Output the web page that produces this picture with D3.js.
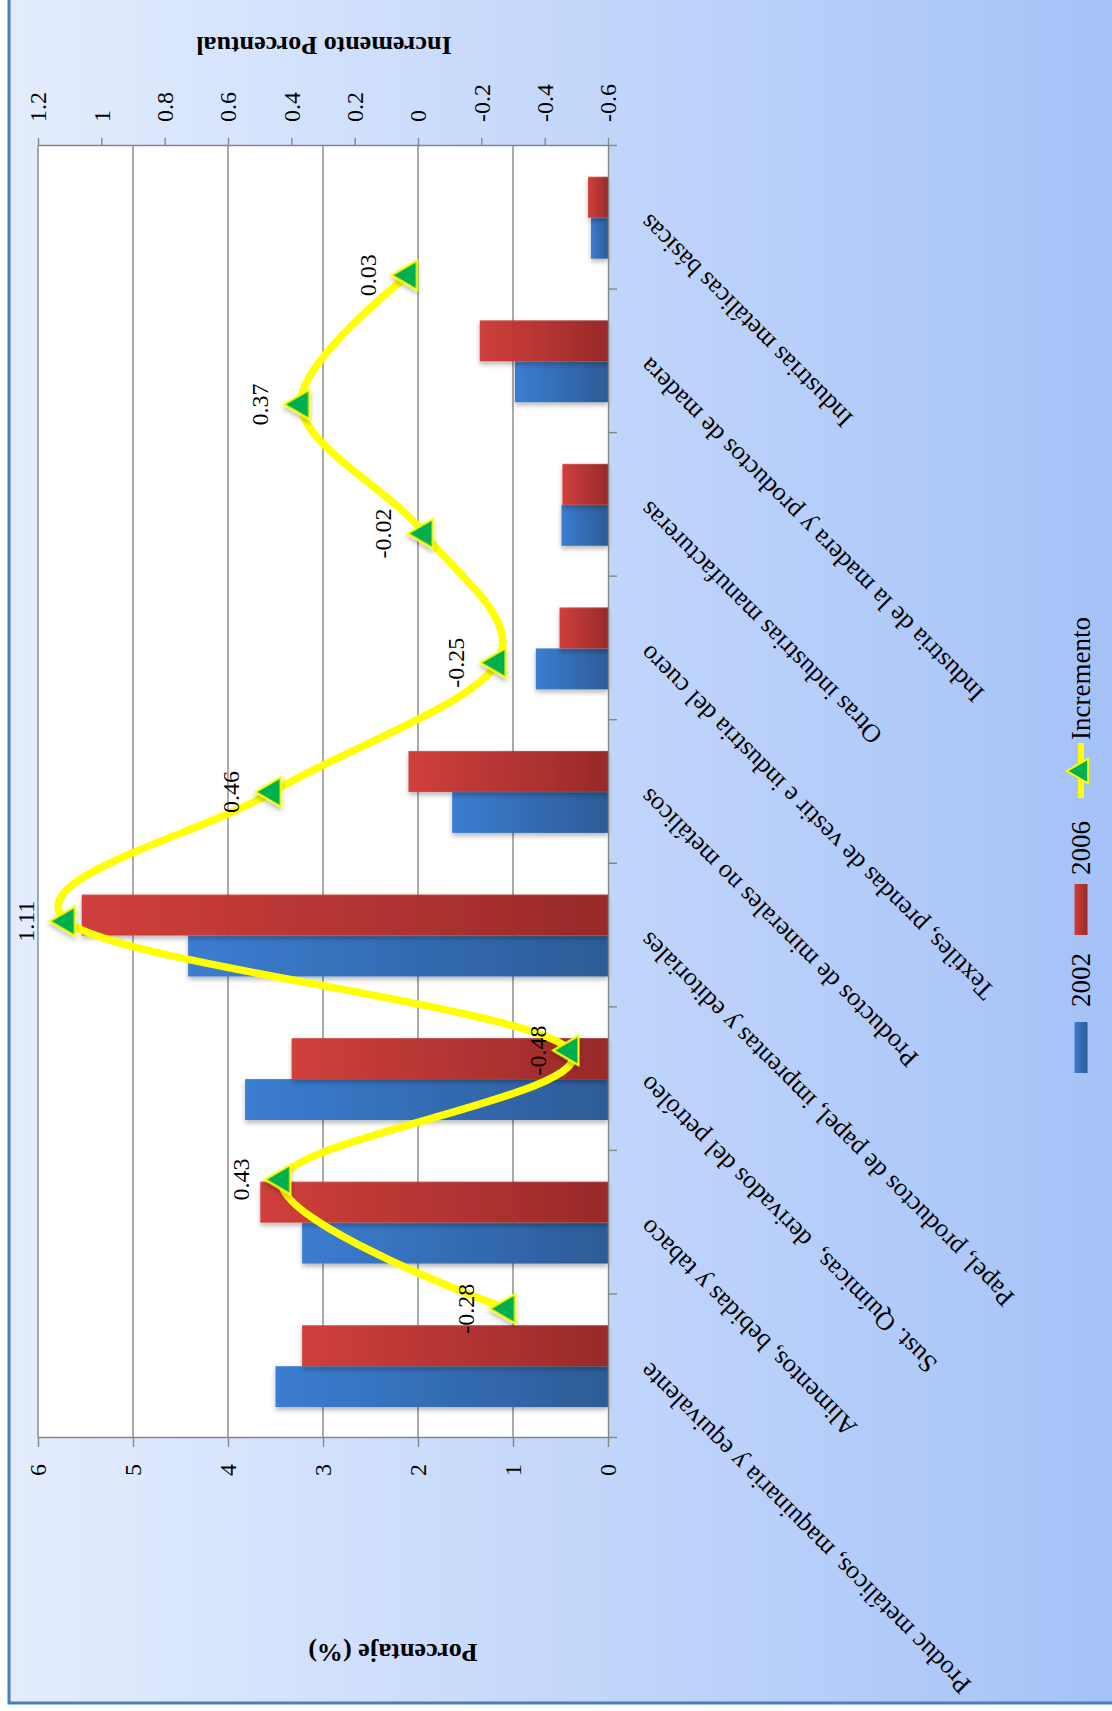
<!DOCTYPE html>
<html>
<head>
<meta charset="utf-8">
<script src="https://cdnjs.cloudflare.com/ajax/libs/d3/7.8.5/d3.min.js"></script>
<style>
  body { margin: 0; background: #fff; }
  svg { display: block; }
  text { font-family: "Liberation Serif", "Times New Roman", serif; fill: #000; }
</style>
</head>
<body>
<div id="chart"></div>
<script>
const categories = [
    "Produc metálicos, maquinaria y equivalente",
    "Alimentos, bebidas y tabaco",
    "Sust. Químicas,  derivados del petróleo",
    "Papel, productos de papel, imprentas y editoriales",
    "Productos de minerales no metálicos",
    "Textiles, prendas de vestir e industria del cuero",
    "Otras industrias manufactureras",
    "Industria de la madera y productos de madera",
    "Industrias metálicas básicas"
];
const values2002 = [3.50, 3.22, 3.82, 4.42, 1.64, 0.76, 0.49, 0.98, 0.18];
const values2006 = [3.22, 3.66, 3.33, 5.54, 2.10, 0.51, 0.48, 1.35, 0.21];
const incremento = [-0.28, 0.43, -0.48, 1.11, 0.46, -0.25, -0.02, 0.37, 0.03];
const leftTicks = [0, 1, 2, 3, 4, 5, 6];
const rightTicks = [-0.6, -0.4, -0.2, 0, 0.2, 0.4, 0.6, 0.8, 1, 1.2];
const seriesNames = ["2002", "2006"];

// the chart is drawn landscape, then turned a quarter turn to fit the page
const pageW = 1112, pageH = 1711;
const plot = { left: 273, right: 1565, top: 38, bottom: 608 };

const svg = d3.select("#chart").append("svg")
    .attr("width", pageW)
    .attr("height", pageH);

const defs = svg.append("defs");

const bg = defs.append("linearGradient").attr("id", "bg")
    .attr("x1", 0).attr("y1", 0).attr("x2", 1).attr("y2", 0);
bg.append("stop").attr("offset", 0).attr("stop-color", "#e4edfd");
bg.append("stop").attr("offset", 1).attr("stop-color", "#a3c1f8");

function barGradient(id, light, dark) {
    const g = defs.append("linearGradient").attr("id", id)
        .attr("x1", 0).attr("y1", 0).attr("x2", 0).attr("y2", 1);
    g.append("stop").attr("offset", 0).attr("stop-color", light);
    g.append("stop").attr("offset", 1).attr("stop-color", dark);
}
barGradient("g2002", "#3b7dd1", "#2c5c97");
barGradient("g2006", "#d03f3c", "#982a28");

defs.append("filter").attr("id", "shadow")
    .attr("x", "-20%").attr("y", "-20%").attr("width", "140%").attr("height", "140%")
    .append("feDropShadow")
    .attr("dx", -3).attr("dy", 0).attr("stdDeviation", 2.5)
    .attr("flood-color", "#000").attr("flood-opacity", 0.28);

// background and frame (page coordinates)
svg.append("rect")
    .attr("x", 9).attr("y", -10)
    .attr("width", pageW + 20).attr("height", 1713)
    .attr("fill", "url(#bg)")
    .attr("stroke", "#4a7ebb").attr("stroke-width", 3);

const g = svg.append("g")
    .attr("transform", `translate(0,${pageH}) rotate(-90)`);

// scales
const x = d3.scaleBand()
    .domain(categories)
    .range([plot.left, plot.right])
    .paddingInner(0.43)
    .paddingOuter(0.215);

const xSub = d3.scaleBand()
    .domain(seriesNames)
    .range([0, x.bandwidth()]);

const xIdx = d3.scaleLinear()
    .domain([0, categories.length])
    .range([plot.left, plot.right]);

// the line sits on its own category axis with one extra slot each side
const xLine = d3.scaleLinear()
    .domain([-1, categories.length])
    .range([plot.left, plot.right]);

const yLeft = d3.scaleLinear().domain([0, 6]).range([plot.bottom, plot.top]);
const yRight = d3.scaleLinear().domain([-0.6, 1.2]).range([plot.bottom, plot.top]);

// plot area
g.append("rect")
    .attr("x", plot.left).attr("y", plot.top)
    .attr("width", plot.right - plot.left)
    .attr("height", plot.bottom - plot.top)
    .attr("fill", "#fff");

g.append("g")
    .selectAll("line")
    .data(leftTicks.filter(d => d > 0))
    .join("line")
      .attr("x1", plot.left).attr("x2", plot.right)
      .attr("y1", d => yLeft(d)).attr("y2", d => yLeft(d))
      .attr("stroke", "#868686").attr("stroke-width", 1.4);

// bars
const rows = categories.map((c, i) => ({ cat: c, vals: [values2002[i], values2006[i]] }));

g.append("g")
    .selectAll("g")
    .data(rows)
    .join("g")
      .attr("transform", d => `translate(${x(d.cat)},0)`)
    .selectAll("rect")
    .data(d => d.vals.map((v, j) => ({ key: seriesNames[j], v })))
    .join("rect")
      .attr("x", d => xSub(d.key))
      .attr("y", d => yLeft(d.v))
      .attr("width", xSub.bandwidth())
      .attr("height", d => yLeft(0) - yLeft(d.v))
      .attr("fill", d => `url(#g${d.key})`)
      .attr("filter", "url(#shadow)");

// axes
function styleAxis(sel) {
    sel.selectAll(".domain").attr("stroke", "#868686").attr("stroke-width", 1.4);
    sel.selectAll(".tick line").attr("stroke", "#868686").attr("stroke-width", 1.4);
    sel.selectAll("text")
        .attr("font-family", "Liberation Serif")
        .attr("font-size", 24)
        .attr("fill", "#000");
}

g.append("g")
    .attr("transform", `translate(${plot.left},0)`)
    .call(d3.axisLeft(yLeft).tickValues(leftTicks).tickSize(9).tickPadding(17).tickSizeOuter(0)
        .tickFormat(d => d))
    .call(styleAxis);

g.append("g")
    .attr("transform", `translate(${plot.right},0)`)
    .call(d3.axisRight(yRight).tickValues(rightTicks).tickSize(8).tickPadding(16).tickSizeOuter(0)
        .tickFormat(d => String(+d.toFixed(1))))
    .call(styleAxis);

g.append("g")
    .attr("transform", `translate(0,${plot.bottom})`)
    .call(d3.axisBottom(xIdx).tickValues(d3.range(categories.length + 1)).tickSize(9).tickSizeOuter(0)
        .tickFormat(""))
    .call(styleAxis);

// category labels, slanted
g.append("g")
    .selectAll("text")
    .data(categories)
    .join("text")
      .attr("transform", d => `translate(${x(d) + x.bandwidth() / 2 + 5},${plot.bottom + 42}) rotate(-45)`)
      .attr("text-anchor", "end")
      .attr("font-size", 26)
      .style("white-space", "pre")
      .text(d => d);

// axis titles
g.append("text")
    .attr("transform", `translate(67,393) rotate(-90)`)
    .attr("text-anchor", "middle")
    .attr("font-size", 26).attr("font-weight", "bold")
    .text("Porcentaje (%)");

g.append("text")
    .attr("transform", `translate(1674,324) rotate(-90)`)
    .attr("text-anchor", "middle")
    .attr("font-size", 26).attr("font-weight", "bold")
    .text("Incremento Porcentual");

// incremento line
const line = d3.line()
    .x((d, i) => xLine(i))
    .y(d => yRight(d))
    .curve(d3.curveCardinal.tension(0));

g.append("path")
    .datum(incremento)
    .attr("d", line)
    .attr("fill", "none")
    .attr("stroke", "#ffff00")
    .attr("stroke-width", 7.5)
    .attr("stroke-linejoin", "round");

const tri = d3.symbol(d3.symbolTriangle, 380);

g.append("g")
    .selectAll("path")
    .data(incremento)
    .join("path")
      .attr("transform", (d, i) => `translate(${xLine(i)},${yRight(d)})`)
      .attr("d", tri)
      .attr("fill", "#00b050")
      .attr("stroke", "#ffff00")
      .attr("stroke-width", 2)
      .attr("filter", "url(#shadow)");

// the -0.48 label was dragged closer to its marker in the original
g.append("g")
    .selectAll("text")
    .data(incremento)
    .join("text")
      .attr("x", (d, i) => xLine(i))
      .attr("y", (d, i) => yRight(d) - (i === 2 ? 24 : 33))
      .attr("text-anchor", "middle")
      .attr("font-size", 24)
      .text(d => d.toFixed(2));

// legend
const legend = g.append("g").attr("transform", "translate(0,1081)");

legend.append("rect").attr("x", 638).attr("y", -6.5).attr("width", 51).attr("height", 13)
    .attr("fill", "url(#g2002)");
legend.append("text").attr("x", 704).attr("y", 9).attr("font-size", 27).text("2002");

legend.append("rect").attr("x", 776).attr("y", -6.5).attr("width", 51).attr("height", 13)
    .attr("fill", "url(#g2006)");
legend.append("text").attr("x", 836).attr("y", 9).attr("font-size", 27).text("2006");

legend.append("line").attr("x1", 913).attr("x2", 968).attr("y1", 0).attr("y2", 0)
    .attr("stroke", "#ffff00").attr("stroke-width", 6);
legend.append("path").attr("transform", "translate(940,0)")
    .attr("d", d3.symbol(d3.symbolTriangle, 260))
    .attr("fill", "#00b050").attr("stroke", "#ffff00").attr("stroke-width", 2);
legend.append("text").attr("x", 971).attr("y", 9).attr("font-size", 27).text("Incremento");
</script>
</body>
</html>
